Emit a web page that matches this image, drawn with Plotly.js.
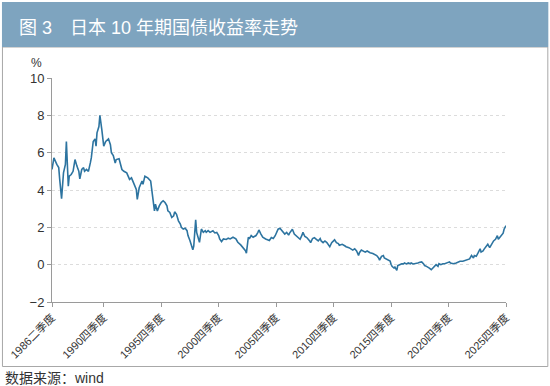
<!DOCTYPE html>
<html>
<head>
<meta charset="utf-8">
<script src="https://cdn.plot.ly/plotly-3.0.1.min.js"></script>
<style>
html,body{margin:0;padding:0;background:#fff;}
#chart{width:550px;height:386px;}
</style>
</head>
<body>
<div id="chart"></div>
<script>
// Data (Japan 10-year government bond yield, %)
var dates = [
"1986-06","1986-08","1986-11","1987-01","1987-02","1987-04","1987-06","1987-08","1987-09","1987-10","1987-11","1987-12",
"1988-02","1988-04","1988-06","1988-08","1988-10","1988-11","1989-01","1989-03","1989-04","1989-06","1989-08","1989-10","1989-11",
"1990-01","1990-03","1990-04","1990-05","1990-07","1990-08","1990-10","1990-11","1990-12",
"1991-02","1991-05","1991-07","1991-08","1991-10","1991-12",
"1992-01","1992-04","1992-07","1992-09","1992-12",
"1993-03","1993-05","1993-07","1993-10","1993-11",
"1994-01","1994-04","1994-05","1994-07","1994-10",
"1995-01","1995-02","1995-03","1995-04","1995-05","1995-06","1995-08","1995-10","1995-12",
"1996-02","1996-04","1996-06","1996-07","1996-09","1996-11",
"1997-01","1997-02","1997-04","1997-06","1997-08","1997-09","1997-11",
"1998-01","1998-03","1998-04","1998-06","1998-08","1998-09","1998-10","1998-11","1998-12",
"1999-01","1999-03","1999-04","1999-05","1999-06","1999-08","1999-10","1999-11",
"2000-01","2000-03","2000-05","2000-06","2000-08","2000-10","2000-12",
"2001-01","2001-03","2001-05","2001-08","2001-10","2001-12",
"2002-03","2002-06","2002-08","2002-11",
"2003-02","2003-04","2003-05","2003-06","2003-07","2003-08","2003-10","2003-12",
"2004-03","2004-05","2004-06","2004-08","2004-10",
"2005-01","2005-04","2005-05","2005-07","2005-09","2005-11","2005-12",
"2006-02","2006-04","2006-06","2006-07","2006-09","2006-11",
"2007-01","2007-02","2007-04","2007-05","2007-07","2007-09","2007-11",
"2008-01","2008-03","2008-04","2008-06","2008-08","2008-11","2008-12",
"2009-02","2009-04","2009-06","2009-08","2009-10","2009-11",
"2010-01","2010-03","2010-05","2010-06","2010-08","2010-10","2010-12",
"2011-01","2011-03","2011-05","2011-06","2011-09","2011-12",
"2012-01","2012-04","2012-07","2012-08","2012-10","2012-12",
"2013-02","2013-03","2013-05","2013-07","2013-09","2013-11",
"2014-02","2014-05","2014-07","2014-09","2014-11","2014-12",
"2015-02","2015-04","2015-05","2015-07","2015-10","2015-11","2015-12",
"2016-01","2016-03","2016-04","2016-06","2016-07","2016-09","2016-11",
"2017-01","2017-02","2017-04","2017-06","2017-08","2017-09","2017-11",
"2018-01","2018-03","2018-04","2018-06","2018-08","2018-10","2018-11",
"2019-01","2019-03","2019-04","2019-06","2019-08","2019-10","2019-11",
"2020-01","2020-02","2020-04","2020-06","2020-08","2020-11",
"2021-01","2021-02","2021-05","2021-08","2021-10","2021-12",
"2022-03","2022-06","2022-08","2022-10","2022-12",
"2023-02","2023-03","2023-05","2023-07","2023-09","2023-10","2023-12",
"2024-01","2024-04","2024-05","2024-07","2024-08","2024-10","2024-11",
"2025-01","2025-03","2025-04","2025-06","2025-07","2025-09","2025-10","2025-12"
];
var yields = [
5.1,5.72,5.37,5.2,4.57,3.53,4.92,5.37,6.6,5.3,4.2,4.74,
4.83,5.0,5.63,5.28,5.0,4.6,5.1,5.2,5.0,5.1,5.0,5.45,5.72,
6.6,6.74,6.35,7.06,7.4,8.0,7.23,6.52,6.35,
6.6,6.74,6.43,6.0,5.85,5.45,
5.63,5.67,5.1,5.0,4.92,
4.57,4.65,4.38,4.03,3.5,
4.12,4.48,4.3,4.74,4.65,
4.48,4.03,3.7,3.35,2.88,3.24,2.88,3.15,3.33,
3.42,3.33,3.15,2.88,2.8,2.53,
2.62,2.83,2.7,2.35,2.18,2.0,1.91,
1.95,1.82,1.56,1.29,0.88,0.8,1.0,1.56,2.4,
1.73,1.38,1.2,1.56,1.91,1.73,1.82,1.73,
1.82,1.73,1.79,1.82,1.7,1.73,1.56,
1.38,1.24,1.38,1.35,1.42,1.38,
1.47,1.38,1.2,1.06,
0.88,0.75,0.62,1.03,1.47,1.38,1.56,1.47,
1.56,1.73,1.86,1.65,1.47,
1.38,1.33,1.3,1.45,1.4,1.55,1.69,
1.9,1.95,1.82,1.76,1.64,1.73,
1.58,1.69,1.87,1.9,1.64,1.55,1.45,
1.36,1.58,1.73,1.51,1.45,1.27,1.18,
1.4,1.45,1.36,1.27,1.4,1.27,
1.18,1.27,1.18,1.09,0.96,1.18,1.27,
1.33,1.18,1.13,1.04,1.09,1.0,
0.96,0.91,0.82,0.78,0.85,0.73,
0.49,0.64,0.78,0.73,0.67,0.73,
0.64,0.6,0.55,0.49,0.36,0.24,
0.45,0.49,0.36,0.31,0.27,0.2,0.02,
-0.09,-0.18,-0.13,-0.31,-0.05,0,0.05,
0.04,0.09,0.04,0.09,0.05,0.09,0.04,
0.05,0.09,0.09,0.13,0.15,0.04,-0.05,
-0.09,-0.13,-0.18,-0.27,-0.18,-0.09,0,
-0.09,0.05,0,0.05,0.05,0.09,
0.15,0.09,0.05,0.09,0.15,0.18,
0.18,0.22,0.27,0.31,0.49,
0.36,0.49,0.45,0.64,0.85,0.67,0.73,
0.82,1.04,1.09,0.91,1.0,1.18,1.27,
1.36,1.55,1.36,1.51,1.55,1.69,1.9,2.09
];
var tickDates = ["1986-06-01","1990-12-01","1995-12-01","2000-12-01","2005-12-01","2010-12-01","2015-12-01","2020-12-01","2025-12-01"];
var tickLabels = ["1986二季度","1990四季度","1995四季度","2000四季度","2005四季度","2010四季度","2015四季度","2020四季度","2025四季度"];
var yTicks = [-2,0,2,4,6,8,10];
var yTickLabels = ["\u22122","0","2","4","6","8","10"];
var titleText = "图 3\u3000日本 10 年期国债收益率走势";
var unitText = "%";
var sourceText = "数据来源：wind";

var FONT = "Liberation Sans, Arial, Noto Sans CJK SC, sans-serif";

// plot area in pixels: x 52..505.7, y 78..302
var L = 52, R = 505.7, T = 78, B = 302;
function px(x){ return (x - L) / (R - L); }
function py(y){ return (B - y) / (B - T); }

var trace = {
  x: dates, y: yields, type: "scatter", mode: "lines",
  line: {color: "#2d74a0", width: 1.6}, hoverinfo: "skip"
};

var layout = {
  width: 550, height: 386,
  margin: {l: L, r: 550 - R, t: T, b: 386 - B, pad: 0},
  paper_bgcolor: "#ffffff", plot_bgcolor: "#ffffff",
  showlegend: false,
  font: {family: FONT, color: "#333333", size: 12},
  xaxis: {
    type: "date",
    range: [tickDates[0], tickDates[tickDates.length - 1]],
    tickmode: "array", tickvals: tickDates, ticktext: tickLabels,
    tickangle: -45, tickfont: {family: FONT, size: 11, color: "#333"},
    showline: true, linecolor: "#9a9a9a", linewidth: 1,
    ticks: "outside", ticklen: 4, tickcolor: "#9a9a9a",
    showgrid: false, zeroline: false, fixedrange: true
  },
  yaxis: {
    range: [-2, 10],
    tickmode: "array", tickvals: yTicks, ticktext: yTickLabels,
    tickfont: {family: FONT, size: 13, color: "#333"},
    showline: true, linecolor: "#9a9a9a", linewidth: 1,
    ticks: "outside", ticklen: 4, tickcolor: "#9a9a9a",
    showgrid: true, gridcolor: "#dcdcdc", griddash: "dot", gridwidth: 1,
    zeroline: false, fixedrange: true
  },
  shapes: [
    {type: "rect", xref: "paper", yref: "paper",
     x0: px(2.5), x1: px(547.5), y0: py(366.5), y1: py(47),
     line: {color: "#a8a8a8", width: 1}, fillcolor: "rgba(0,0,0,0)", layer: "below"},
    {type: "rect", xref: "paper", yref: "paper",
     x0: px(2), x1: px(548), y0: py(47), y1: py(2),
     line: {width: 0}, fillcolor: "#7ea4bf", layer: "below"}
  ],
  annotations: [
    {xref: "paper", yref: "paper", x: px(17), y: py(28), xanchor: "left", yanchor: "middle",
     text: titleText, showarrow: false, font: {family: FONT, size: 18, color: "#ffffff"}},
    {xref: "paper", yref: "paper", x: px(37), y: py(63), xanchor: "center", yanchor: "middle",
     text: unitText, showarrow: false, font: {family: FONT, size: 12, color: "#333"}},
    {xref: "paper", yref: "paper", x: px(3), y: py(378), xanchor: "left", yanchor: "middle",
     text: sourceText, showarrow: false, font: {family: FONT, size: 14, color: "#333"}}
  ]
};

Plotly.newPlot("chart", [trace], layout, {displayModeBar: false, staticPlot: true});
</script>
</body>
</html>
